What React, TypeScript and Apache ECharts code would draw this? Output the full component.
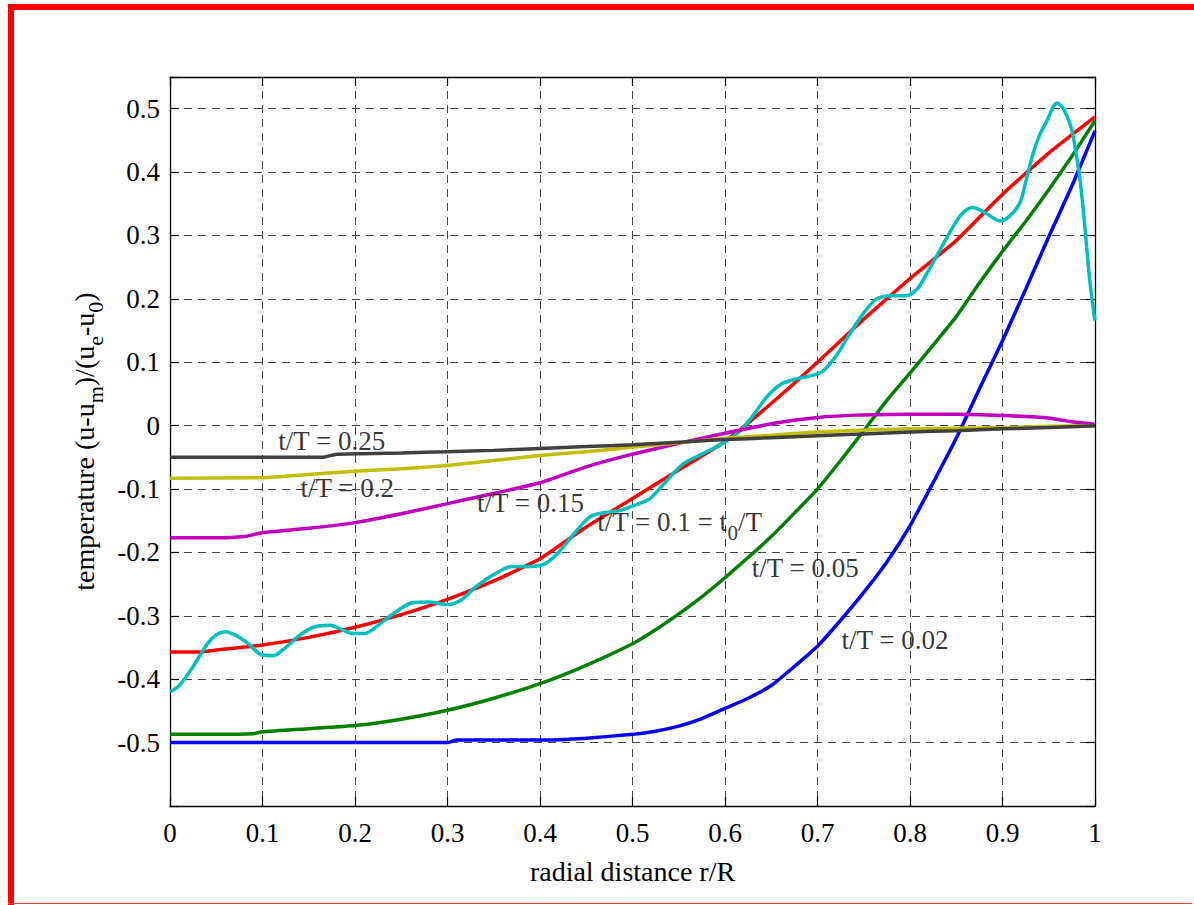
import React, { useEffect, useRef } from "react";
import * as echarts from "echarts";

// Temperature profiles across the radius at several times t/T
const profile002: [number, number][] = [
  [0, -0.5], [0.1, -0.5], [0.2, -0.5], [0.3, -0.5], [0.31, -0.496], [0.4, -0.496],
  [0.45, -0.493], [0.5, -0.487], [0.525, -0.482], [0.55, -0.474], [0.575, -0.462],
  [0.6, -0.446], [0.625, -0.43], [0.65, -0.41], [0.675, -0.38], [0.7, -0.348],
  [0.725, -0.307], [0.75, -0.263], [0.775, -0.215], [0.8, -0.158], [0.825, -0.09],
  [0.85, -0.02], [0.875, 0.058], [0.9, 0.134], [0.925, 0.215], [0.95, 0.298],
  [0.975, 0.378], [1.0, 0.465],
];

const profile005: [number, number][] = [
  [0, -0.487], [0.05, -0.487], [0.09, -0.486], [0.1, -0.483], [0.15, -0.478], [0.2, -0.473],
  [0.25, -0.463], [0.3, -0.449], [0.35, -0.43], [0.4, -0.407], [0.45, -0.378],
  [0.5, -0.344], [0.525, -0.322], [0.55, -0.297], [0.575, -0.27], [0.6, -0.24],
  [0.625, -0.208], [0.65, -0.175], [0.675, -0.138], [0.7, -0.1], [0.725, -0.055],
  [0.75, -0.008], [0.775, 0.04], [0.8, 0.083], [0.825, 0.127], [0.85, 0.172],
  [0.875, 0.225], [0.9, 0.275], [0.925, 0.322], [0.95, 0.372], [0.975, 0.425], [1.0, 0.481],
];

const profile010: [number, number][] = [
  [0, -0.357], [0.03, -0.357], [0.05, -0.354], [0.1, -0.346], [0.15, -0.334],
  [0.2, -0.318], [0.25, -0.298], [0.3, -0.274], [0.35, -0.245], [0.4, -0.21],
  [0.45, -0.16], [0.5, -0.115], [0.55, -0.07], [0.6, -0.025], [0.65, 0.035],
  [0.7, 0.1], [0.75, 0.168], [0.8, 0.232], [0.85, 0.292], [0.9, 0.365], [0.95, 0.43],
  [1.0, 0.487],
];

// Same time step, computed with a truncated series (shows overshoot near r/R = 1)
const profile010Series: [number, number][] = [
  [0, -0.42], [0.01, -0.41], [0.025, -0.38], [0.04, -0.345], [0.05, -0.33],
  [0.06, -0.325], [0.07, -0.33], [0.083, -0.342], [0.097, -0.36], [0.111, -0.363],
  [0.125, -0.35], [0.14, -0.331], [0.155, -0.318], [0.173, -0.315], [0.186, -0.322],
  [0.198, -0.328], [0.21, -0.328], [0.225, -0.315], [0.241, -0.297], [0.263, -0.279],
  [0.28, -0.278], [0.3, -0.282], [0.315, -0.275], [0.33, -0.255], [0.35, -0.235],
  [0.37, -0.222], [0.39, -0.222], [0.405, -0.218], [0.42, -0.2], [0.44, -0.165],
  [0.455, -0.143], [0.47, -0.137], [0.486, -0.134], [0.505, -0.124], [0.519, -0.115],
  [0.537, -0.087], [0.555, -0.06], [0.575, -0.045], [0.595, -0.03], [0.615, -0.01],
  [0.63, 0.015], [0.645, 0.045], [0.66, 0.065], [0.675, 0.073], [0.69, 0.078],
  [0.705, 0.085], [0.72, 0.11], [0.735, 0.145], [0.75, 0.178], [0.764, 0.2],
  [0.78, 0.205], [0.795, 0.205], [0.808, 0.216], [0.82, 0.245], [0.832, 0.276],
  [0.845, 0.31], [0.856, 0.334], [0.868, 0.344], [0.882, 0.335], [0.897, 0.323],
  [0.908, 0.331], [0.919, 0.352], [0.926, 0.39], [0.933, 0.429], [0.94, 0.458],
  [0.948, 0.481], [0.959, 0.509], [0.965, 0.502], [0.972, 0.48], [0.976, 0.46],
  [0.98, 0.425], [0.984, 0.386], [0.988, 0.33], [0.991, 0.281], [0.995, 0.22],
  [1.0, 0.166],
];

const profile015: [number, number][] = [
  [0, -0.177], [0.05, -0.177], [0.08, -0.175], [0.1, -0.169], [0.15, -0.162],
  [0.2, -0.153], [0.25, -0.139], [0.3, -0.123], [0.35, -0.107], [0.4, -0.09],
  [0.45, -0.065], [0.5, -0.045], [0.55, -0.028], [0.6, -0.012], [0.65, 0.003],
  [0.7, 0.013], [0.75, 0.017], [0.8, 0.018], [0.85, 0.018], [0.9, 0.016],
  [0.95, 0.012], [0.975, 0.006], [1.0, 0.002],
];

const profile020: [number, number][] = [
  [0, -0.083], [0.1, -0.082], [0.15, -0.077], [0.2, -0.072], [0.25, -0.068],
  [0.3, -0.063], [0.35, -0.055], [0.4, -0.047], [0.45, -0.041], [0.5, -0.034],
  [0.55, -0.027], [0.6, -0.02], [0.65, -0.015], [0.7, -0.01], [0.75, -0.007],
  [0.8, -0.005], [0.85, -0.004], [0.9, -0.003], [0.95, -0.001], [1.0, 0],
];

const profile025: [number, number][] = [
  [0, -0.05], [0.1, -0.05], [0.165, -0.05], [0.18, -0.045], [0.25, -0.043],
  [0.3, -0.041], [0.35, -0.039], [0.4, -0.036], [0.45, -0.033], [0.5, -0.03],
  [0.55, -0.026], [0.6, -0.022], [0.65, -0.019], [0.7, -0.016], [0.75, -0.013],
  [0.8, -0.01], [0.85, -0.008], [0.9, -0.005], [0.95, -0.003], [1.0, 0],
];

const seriesColors = ["#0000ff", "#008000", "#ff0000", "#00bfbf", "#bf00bf", "#bfbf00", "#404040"];
const seriesNames = ["t/T = 0.02", "t/T = 0.05", "t/T = 0.1", "t/T = 0.1 (series)", "t/T = 0.15", "t/T = 0.2", "t/T = 0.25"];
const seriesData = [profile002, profile005, profile010, profile010Series, profile015, profile020, profile025];

// Curve annotations: anchor at the text's left / bottom in data units
const annotations: { text: string; at: [number, number] }[] = [
  { text: "t/T = 0.25", at: [0.117, -0.045] },
  { text: "t/T = 0.2", at: [0.141, -0.119] },
  { text: "t/T = 0.15", at: [0.332, -0.143] },
  { text: "t/T = 0.1 = t{sub|0}/T", at: [0.462, -0.186] },
  { text: "t/T = 0.05", at: [0.629, -0.246] },
  { text: "t/T = 0.02", at: [0.726, -0.359] },
];

const xTickLabels = ["0", "0.1", "0.2", "0.3", "0.4", "0.5", "0.6", "0.7", "0.8", "0.9", "1"];
const yTickLabels = ["-0.5", "-0.4", "-0.3", "-0.2", "-0.1", "0", "0.1", "0.2", "0.3", "0.4", "0.5"];

const FONT = "'Liberation Serif', 'Times New Roman', serif";

function fmtTick(v: number, allowed: string[]): string {
  const r = Math.round(v * 10) / 10;
  if (Math.abs(v - r) > 1e-6) return "";
  const s = String(r === 0 ? 0 : r);
  return allowed.includes(s) ? s : "";
}

export default function App() {
  const ref = useRef<HTMLDivElement>(null);

  useEffect(() => {
    if (!ref.current) return;
    const chart = echarts.init(ref.current, undefined, { renderer: "svg" });

    const tick = () => ({ show: true, inside: true, length: 9, lineStyle: { color: "#000", width: 1.2 } });
    const axisLine = () => ({ show: true, onZero: false, lineStyle: { color: "#000", width: 1.3 } });
    const dashed = { show: true, lineStyle: { color: "#444", width: 1, type: [8, 6] as any } };
    const labelStyle = { fontFamily: FONT, fontSize: 27, color: "#000" };

    const lineSeries = seriesData.map((d, i) => ({
      type: "line",
      name: seriesNames[i],
      data: d,
      showSymbol: false,
      symbol: "none",
      smooth: i === 3 ? 0.3 : 0.15,
      lineStyle: { color: seriesColors[i], width: 3.5 },
      itemStyle: { color: seriesColors[i] },
      z: 3,
    }));

    const labelSeries = {
      type: "scatter",
      name: "labels",
      symbolSize: 0,
      silent: true,
      z: 5,
      data: annotations.map((a) => ({ value: a.at, name: a.text })),
      label: {
        show: true,
        position: [0, 0],
        align: "left",
        verticalAlign: "bottom",
        formatter: (p: any) => p.name,
        fontFamily: FONT,
        fontSize: 27,
        color: "#000",
        rich: {
          sub: { fontFamily: FONT, fontSize: 21, color: "#000", padding: [22, 0, 0, 0] },
        },
      },
    };

    chart.setOption({
      animation: false,
      backgroundColor: "#fff",
      grid: { left: 170, right: 99, top: 77, bottom: 99, containLabel: false },
      xAxis: [
        {
          type: "value",
          position: "bottom",
          min: 0,
          max: 1,
          interval: 0.1,
          axisLine: axisLine(),
          axisTick: tick(),
          splitLine: dashed,
          axisLabel: { ...labelStyle, margin: 13, formatter: (v: number) => fmtTick(v, xTickLabels) },
          name: "radial distance r/R",
          nameLocation: "middle",
          nameGap: 51,
          nameTextStyle: { ...labelStyle, fontSize: 28 },
        },
        {
          type: "value",
          position: "top",
          min: 0,
          max: 1,
          interval: 0.1,
          axisLine: axisLine(),
          axisTick: tick(),
          splitLine: { show: false },
          axisLabel: { show: false },
        },
      ],
      yAxis: [
        {
          type: "value",
          position: "left",
          min: -0.6,
          max: 0.55,
          interval: 0.1,
          axisLine: axisLine(),
          axisTick: tick(),
          splitLine: dashed,
          axisLabel: { ...labelStyle, margin: 10, formatter: (v: number) => fmtTick(v, yTickLabels) },
          name: "temperature (u-u{sub|m})/(u{sub|e}-u{sub|0})",
          nameLocation: "middle",
          nameRotate: 90,
          nameGap: 63,
          nameTextStyle: {
            ...labelStyle,
            fontSize: 28,
            rich: {
              sub: { fontFamily: FONT, fontSize: 22, color: "#000", padding: [22, 0, 0, 0] },
            },
          },
        },
        {
          type: "value",
          position: "right",
          min: -0.6,
          max: 0.55,
          interval: 0.1,
          axisLine: axisLine(),
          axisTick: tick(),
          splitLine: { show: false },
          axisLabel: { show: false },
        },
      ],
      graphic: [
        // page frame
        { type: "rect", shape: { x: 8, y: 4, width: 1186, height: 6 }, style: { fill: "#ff0000" }, z: 10 },
        { type: "rect", shape: { x: 8, y: 4, width: 6, height: 901 }, style: { fill: "#ff0000" }, z: 10 },
        { type: "rect", shape: { x: 8, y: 903, width: 1184, height: 1 }, style: { fill: "#ff4040" }, z: 10 },
      ],
      series: [...lineSeries, labelSeries],
    });

    return () => chart.dispose();
  }, []);

  return (
    <div
      ref={ref}
      style={{ position: "absolute", left: 0, top: 0, width: 1194, height: 905, background: "#fff" }}
    />
  );
}
